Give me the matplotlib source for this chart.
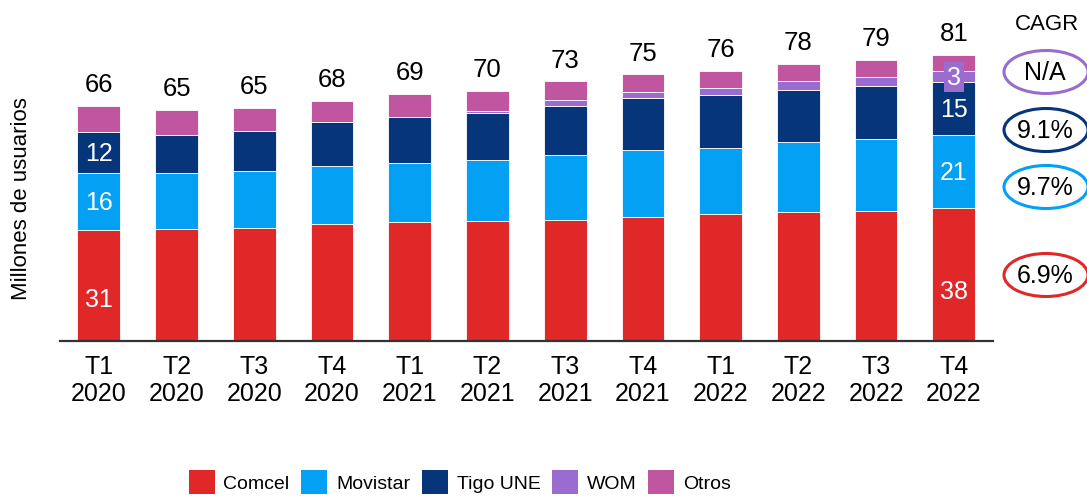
import matplotlib
matplotlib.use("Agg")
import matplotlib.pyplot as plt
from matplotlib.patches import Ellipse, Patch
from matplotlib import font_manager
import numpy as np

plt.rcParams['font.family'] = ['Liberation Sans', 'DejaVu Sans']

# data (millones de usuarios)
periodos = ["T1\n2020", "T2\n2020", "T3\n2020", "T4\n2020",
            "T1\n2021", "T2\n2021", "T3\n2021", "T4\n2021",
            "T1\n2022", "T2\n2022", "T3\n2022", "T4\n2022"]
comcel = [31.2, 31.5, 31.9, 33.0, 33.4, 33.8, 34.2, 35.0, 35.7, 36.2, 36.6, 37.4]
movistar = [16.0, 15.7, 15.9, 16.3, 16.8, 17.2, 18.1, 18.9, 18.8, 19.9, 20.3, 20.6]
tigo = [11.7, 10.9, 11.4, 12.5, 13.0, 13.1, 13.9, 14.5, 14.8, 14.6, 14.8, 14.9]
wom = [0, 0, 0, 0, 0, 0.7, 1.6, 1.8, 2.0, 2.4, 2.7, 3.1]
otros = [7.3, 7.0, 6.4, 5.9, 6.4, 5.7, 5.3, 4.9, 4.8, 5.0, 4.7, 4.7]
totales = [66, 65, 65, 68, 69, 70, 73, 75, 76, 78, 79, 81]

nombres = ["Comcel", "Movistar", "Tigo UNE", "WOM", "Otros"]
colores = ["#E02828", "#03A0F4", "#06357A", "#9B6CCF", "#C056A0"]
cagr = ["6.9%", "9.7%", "9.1%", "N/A"]

# labels shown inside first and last bar
etiq_primera = {"Comcel": "31", "Movistar": "16", "Tigo UNE": "12"}
etiq_ultima = {"Comcel": "38", "Movistar": "21", "Tigo UNE": "15", "WOM": "3"}

series = [comcel, movistar, tigo, wom, otros]
x = np.arange(len(periodos))

prop_leg = font_manager.FontProperties(family="Liberation Sans", size=14)

fig = plt.figure(figsize=(10.87, 5.02), dpi=100)
ax = fig.add_axes([0.0552, 0.3187, 0.858, 0.6365])

bottom = np.zeros(len(x))
for nombre, vals, col in zip(nombres, series, colores):
    vals = np.array(vals)
    ax.bar(x, vals, 0.55, bottom=bottom, color=col, edgecolor="white",
           linewidth=0.6, label=nombre)
    for i, etiq in ((0, etiq_primera), (len(x) - 1, etiq_ultima)):
        if nombre in etiq:
            if nombre == "Comcel":
                yy = bottom[i] + vals[i] * 0.38
            else:
                yy = bottom[i] + vals[i] / 2
            kw = {}
            if nombre == "WOM":
                kw["bbox"] = dict(boxstyle="square,pad=0.12", fc=col, ec="none")
            ax.text(x[i], yy, etiq[nombre], ha="center", va="center",
                    color="white", fontsize=18, **kw)
    bottom += vals

for xi, top, tot in zip(x, bottom, totales):
    ax.annotate(str(tot), (xi, top), xytext=(0, 7), textcoords="offset points",
                ha="center", va="bottom", fontsize=18.5, color="black")

ax.set_xlim(-0.5, len(x) - 0.5)
ax.set_ylim(0, 90)
ax.set_xticks(x)
ax.set_xticklabels(periodos, fontsize=18)
ax.tick_params(axis="x", length=0, pad=9)
ax.set_yticks([])
for s in ["left", "right", "top"]:
    ax.spines[s].set_visible(False)
ax.spines["bottom"].set_color("#333333")
ax.spines["bottom"].set_linewidth(1.6)

fig.text(22 / 1087, 0.604, "Millones de usuarios", rotation=90,
         ha="center", va="center", fontsize=16)

# CAGR column
fig.text(1047 / 1087, 1 - 25 / 502, "CAGR", ha="center", va="center", fontsize=16)
cagr_y = [276, 188, 131, 73]
for txt, yy, col in zip(cagr, cagr_y, colores[:4]):
    cy = 1 - yy / 502
    e = Ellipse((1046 / 1087, cy), 84 / 1087, 43 / 502, transform=fig.transFigure,
                fill=False, edgecolor=col, linewidth=2.2, clip_on=False)
    fig.add_artist(e)
    fig.text(1045 / 1087, cy, txt, ha="center", va="center", fontsize=18)

handles = [Patch(facecolor=c, edgecolor="none") for c in colores]
fs = prop_leg.get_size_in_points() * 100 / 72
fig.legend(handles, nombres, loc="center", bbox_to_anchor=(0.423, 0.038),
           ncol=5, frameon=False, prop=prop_leg, handlelength=26 / fs,
           handleheight=29 / fs, handletextpad=0.45, columnspacing=0.6)

fig.savefig("out.png", dpi=100)
